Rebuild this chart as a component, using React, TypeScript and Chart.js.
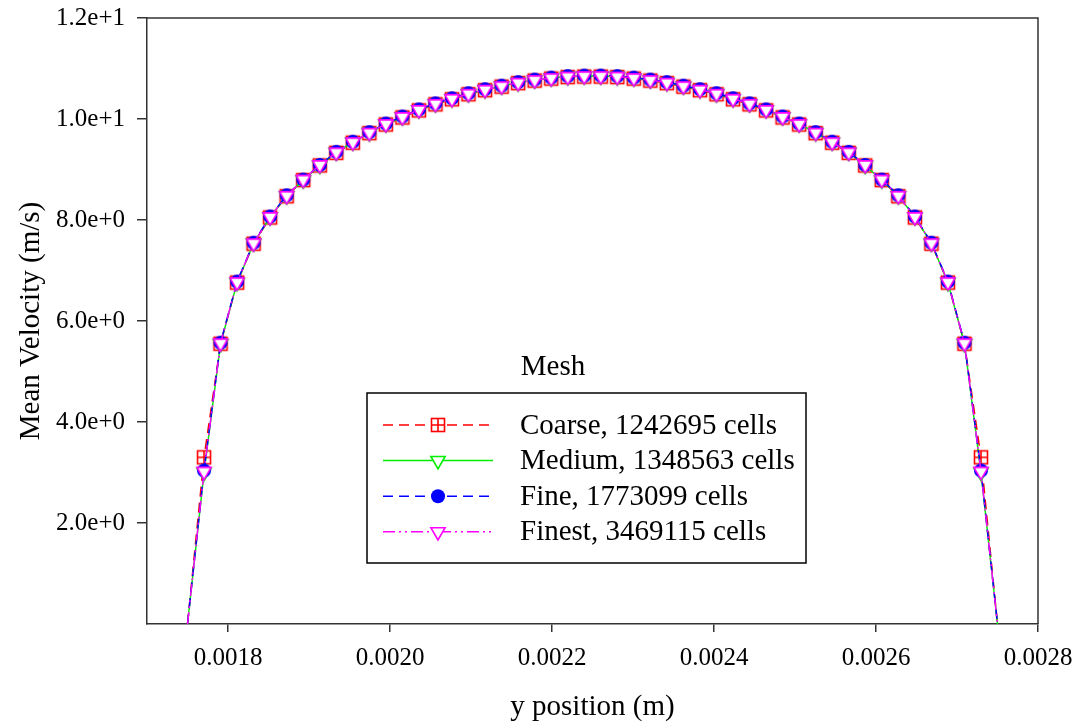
import { useEffect, useRef } from "react";
import { Chart, registerables } from "chart.js";

Chart.register(...registerables);

// Wall-normal position of each sample (m); first and last points sit on the walls
const yPosition = [
  0.00175, 0.0017704, 0.0017908, 0.0018112, 0.0018316, 0.001852, 0.0018724, 0.0018929, 0.0019133, 0.0019337,
  0.0019541, 0.0019745, 0.0019949, 0.0020153, 0.0020357, 0.0020561, 0.0020765, 0.0020969, 0.0021173, 0.0021378,
  0.0021582, 0.0021786, 0.002199, 0.0022194, 0.0022398, 0.0022602, 0.0022806, 0.002301, 0.0023214, 0.0023418,
  0.0023622, 0.0023827, 0.0024031, 0.0024235, 0.0024439, 0.0024643, 0.0024847, 0.0025051, 0.0025255, 0.0025459,
  0.0025663, 0.0025867, 0.0026071, 0.0026276, 0.002648, 0.0026684, 0.0026888, 0.0027092, 0.0027296, 0.00275,
];

// Mean velocity (m/s) for each mesh
const coarse = [
  0, 3.3, 5.55, 6.76, 7.53, 8.05, 8.47, 8.79, 9.08, 9.33,
  9.53, 9.72, 9.89, 10.03, 10.17, 10.29, 10.39, 10.49, 10.57, 10.64,
  10.71, 10.76, 10.8, 10.83, 10.84, 10.84, 10.83, 10.8, 10.76, 10.71,
  10.64, 10.57, 10.49, 10.39, 10.29, 10.17, 10.03, 9.89, 9.72, 9.53,
  9.33, 9.08, 8.79, 8.47, 8.05, 7.53, 6.76, 5.55, 3.3, 0,
];
const medium = [
  0, 3.0, 5.55, 6.76, 7.54, 8.06, 8.48, 8.79, 9.08, 9.34,
  9.54, 9.73, 9.9, 10.04, 10.18, 10.3, 10.4, 10.5, 10.58, 10.65,
  10.72, 10.77, 10.81, 10.84, 10.85, 10.85, 10.84, 10.81, 10.77, 10.72,
  10.65, 10.58, 10.5, 10.4, 10.3, 10.18, 10.04, 9.9, 9.73, 9.54,
  9.34, 9.08, 8.79, 8.48, 8.06, 7.54, 6.76, 5.55, 3.0, 0,
];
const fine = [
  0, 3.04, 5.57, 6.78, 7.55, 8.07, 8.49, 8.8, 9.09, 9.35,
  9.55, 9.74, 9.91, 10.05, 10.19, 10.31, 10.41, 10.51, 10.59, 10.66,
  10.73, 10.78, 10.82, 10.85, 10.86, 10.86, 10.85, 10.82, 10.78, 10.73,
  10.66, 10.59, 10.51, 10.41, 10.31, 10.19, 10.05, 9.91, 9.74, 9.55,
  9.35, 9.09, 8.8, 8.49, 8.07, 7.55, 6.78, 5.57, 3.04, 0,
];
const finest = [
  0, 3.02, 5.56, 6.77, 7.54, 8.06, 8.48, 8.8, 9.09, 9.34,
  9.54, 9.73, 9.9, 10.04, 10.18, 10.3, 10.4, 10.5, 10.58, 10.65,
  10.72, 10.77, 10.81, 10.84, 10.85, 10.85, 10.84, 10.81, 10.77, 10.72,
  10.65, 10.58, 10.5, 10.4, 10.3, 10.18, 10.04, 9.9, 9.73, 9.54,
  9.34, 9.09, 8.8, 8.48, 8.06, 7.54, 6.77, 5.56, 3.02, 0,
];

const seriesLabels = [
  "Coarse, 1242695 cells",
  "Medium, 1348563 cells",
  "Fine, 1773099 cells",
  "Finest, 3469115 cells",
];
const xTickValues = [0.0018, 0.002, 0.0022, 0.0024, 0.0026, 0.0028];
const yTickValues = [2, 4, 6, 8, 10, 12];

const FONT = '"Liberation Serif", "Times New Roman", Times, serif';

type MarkerKind = "boxCross" | "downTriangle" | "circle";

const seriesStyles: { color: string; dash: number[]; marker: MarkerKind }[] = [
  { color: "#ff0000", dash: [10, 6], marker: "boxCross" },
  { color: "#00ee00", dash: [], marker: "downTriangle" },
  { color: "#0000ff", dash: [10, 6], marker: "circle" },
  { color: "#ff00ff", dash: [12, 4, 2, 4, 2, 4], marker: "downTriangle" },
];

function drawMarker(ctx: CanvasRenderingContext2D, kind: MarkerKind, x: number, y: number, color: string) {
  ctx.save();
  ctx.setLineDash([]);
  ctx.lineWidth = 1.6;
  ctx.strokeStyle = color;
  if (kind === "boxCross") {
    const h = 6.5;
    ctx.fillStyle = "#ffffff";
    ctx.fillRect(x - h, y - h, 2 * h, 2 * h);
    ctx.strokeRect(x - h, y - h, 2 * h, 2 * h);
    ctx.beginPath();
    ctx.moveTo(x, y - h);
    ctx.lineTo(x, y + h);
    ctx.moveTo(x - h, y);
    ctx.lineTo(x + h, y);
    ctx.stroke();
  } else if (kind === "circle") {
    ctx.fillStyle = color;
    ctx.beginPath();
    ctx.arc(x, y, 7, 0, Math.PI * 2);
    ctx.fill();
  } else {
    const r = 8.2;
    const s = r * Math.sin(Math.PI / 3);
    ctx.fillStyle = "#ffffff";
    ctx.beginPath();
    ctx.moveTo(x, y + r);
    ctx.lineTo(x - s, y - r / 2);
    ctx.lineTo(x + s, y - r / 2);
    ctx.closePath();
    ctx.fill();
    ctx.stroke();
  }
  ctx.restore();
}

function markerImage(kind: MarkerKind, color: string): HTMLCanvasElement {
  const c = document.createElement("canvas");
  c.width = 20;
  c.height = 20;
  const g = c.getContext("2d")!;
  drawMarker(g, kind, 10, 10, color);
  return c;
}

// Closes the plot frame on the top and right sides
const frameBox = {
  id: "frameBox",
  afterDraw(chart: Chart) {
    const { ctx, chartArea } = chart;
    ctx.save();
    ctx.strokeStyle = "#333333";
    ctx.lineWidth = 1.5;
    ctx.beginPath();
    ctx.moveTo(chartArea.left, chartArea.top);
    ctx.lineTo(chartArea.right, chartArea.top);
    ctx.lineTo(chartArea.right, chartArea.bottom);
    ctx.stroke();
    ctx.restore();
  },
};

// Boxed legend with the "Mesh" heading above it
const meshLegend = {
  id: "meshLegend",
  afterDraw(chart: Chart) {
    const { ctx, chartArea } = chart;
    const bx = chartArea.left + 220;
    const by = chartArea.bottom - 231;
    const bw = 439;
    const bh = 170;
    ctx.save();
    ctx.fillStyle = "#ffffff";
    ctx.fillRect(bx, by, bw, bh);
    ctx.strokeStyle = "#000000";
    ctx.lineWidth = 1.5;
    ctx.strokeRect(bx, by, bw, bh);

    ctx.fillStyle = "#000000";
    ctx.font = `29px ${FONT}`;
    ctx.textAlign = "center";
    ctx.textBaseline = "middle";
    ctx.fillText("Mesh", bx + 186, by - 26);

    ctx.textAlign = "left";
    seriesLabels.forEach((label, i) => {
      const st = seriesStyles[i];
      const ry = by + 32 + i * 35.6;
      ctx.save();
      ctx.strokeStyle = st.color;
      ctx.lineWidth = 1.5;
      ctx.setLineDash(st.dash);
      ctx.beginPath();
      ctx.moveTo(bx + 16, ry);
      ctx.lineTo(bx + 126, ry);
      ctx.stroke();
      ctx.restore();
      drawMarker(ctx, st.marker, bx + 71, ry, st.color);
      ctx.fillStyle = "#000000";
      ctx.fillText(label, bx + 153, ry + 1);
    });
    ctx.restore();
  },
};

export default function App() {
  const canvasRef = useRef<HTMLCanvasElement | null>(null);

  useEffect(() => {
    if (!canvasRef.current) return;
    const seriesData = [coarse, medium, fine, finest];
    const datasets = seriesData.map((values, i) => {
      const st = seriesStyles[i];
      const img = markerImage(st.marker, st.color);
      return {
        label: seriesLabels[i],
        data: values.map((v, j) => ({ x: yPosition[j], y: v })),
        borderColor: st.color,
        borderWidth: 1.5,
        borderDash: st.dash,
        pointStyle: img,
        pointRadius: values.map((v) => (v === 0 ? 0 : 7)),
        pointHoverRadius: 0,
        tension: 0,
        fill: false,
        order: 4 - i,
        clip: false as const,
      };
    });

    const chart = new Chart(canvasRef.current, {
      type: "line",
      data: { datasets },
      options: {
        responsive: false,
        animation: false,
        devicePixelRatio: 1,
        layout: { padding: { left: 0, top: 18, right: 40, bottom: 0 } },
        plugins: {
          legend: { display: false },
          tooltip: { enabled: false },
        },
        scales: {
          x: {
            type: "linear",
            min: 0.0017,
            max: 0.0028,
            afterBuildTicks: (scale: any) => {
              scale.ticks = xTickValues.map((v) => ({ value: v }));
            },
            afterFit: (scale: any) => {
              scale.height = 103;
              scale.paddingLeft = 0;
              scale.paddingRight = 0;
            },
            ticks: {
              autoSkip: false,
              maxRotation: 0,
              padding: 11,
              color: "#000000",
              font: { family: FONT, size: 25 },
              callback: (v: any) => Number(v).toFixed(4),
            },
            grid: { drawOnChartArea: false, tickLength: 8, color: "#333333", lineWidth: 1.5 },
            border: { color: "#333333", width: 1.5 },
            title: {
              display: true,
              text: "y position (m)",
              color: "#000000",
              font: { family: FONT, size: 29 },
              padding: { top: 0, bottom: 2 },
            },
          },
          y: {
            type: "linear",
            min: 0,
            max: 12,
            afterBuildTicks: (scale: any) => {
              scale.ticks = yTickValues.map((v) => ({ value: v }));
            },
            afterFit: (scale: any) => {
              scale.width = 147;
              scale.paddingTop = 0;
              scale.paddingBottom = 0;
            },
            ticks: {
              autoSkip: false,
              padding: 12,
              color: "#000000",
              font: { family: FONT, size: 25 },
              callback: (v: any) => Number(v).toExponential(1),
            },
            grid: { drawOnChartArea: false, tickLength: 10, color: "#333333", lineWidth: 1.5 },
            border: { color: "#333333", width: 1.5 },
            title: {
              display: true,
              text: "Mean Velocity (m/s)",
              color: "#000000",
              font: { family: FONT, size: 29 },
              padding: { top: 14, bottom: 0 },
            },
          },
        },
      },
      plugins: [frameBox, meshLegend],
    });

    return () => chart.destroy();
  }, []);

  return (
    <div style={{ position: "fixed", left: 0, top: 0, width: 1078, height: 727, background: "#ffffff" }}>
      <canvas ref={canvasRef} width={1078} height={727} style={{ display: "block" }} />
    </div>
  );
}
